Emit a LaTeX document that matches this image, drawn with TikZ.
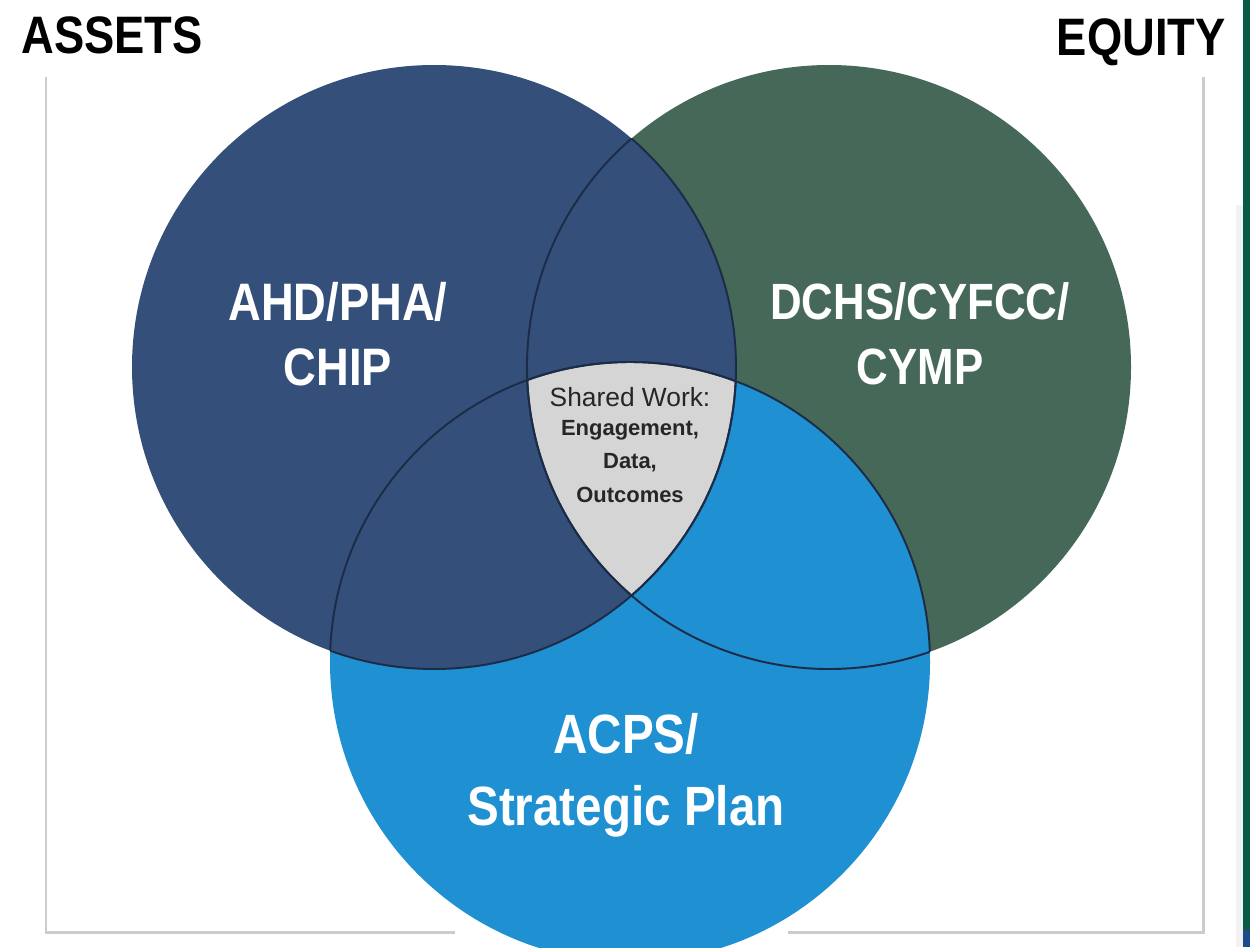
\documentclass[tikz,border=0pt]{standalone}
\usepackage{fontspec}
\setmainfont{Liberation Sans}
\newfontfamily\condfont[FakeStretch=0.86]{Liberation Sans}
\definecolor{ahdblue}{RGB}{52,80,122}
\definecolor{dchsgreen}{RGB}{70,104,88}
\definecolor{acpsblue}{RGB}{31,144,209}
\definecolor{sharedgray}{RGB}{213,213,213}
\definecolor{edgenavy}{RGB}{28,44,70}
\definecolor{bracketgray}{RGB}{204,204,204}
\definecolor{sidegreen}{RGB}{10,90,68}
\definecolor{sideblue}{RGB}{30,75,140}

\begin{document}
\begin{tikzpicture}[x=0.02cm,y=-0.02cm]
\tikzset{
  circle label/.style={text=white,inner sep=0pt,anchor=north,align=center,
    font=\condfont\bfseries\fontsize{30}{37}\selectfont},
  corner label/.style={inner sep=0pt,text=black,
    font=\condfont\bfseries\fontsize{30}{36}\selectfont},
  shared label/.style={inner sep=0pt,anchor=north,align=center,text=black!85,
    font=\fontsize{12.5}{19}\selectfont},
  bracket/.style={draw=bracketgray,line width=1.7pt},
  inner arc/.style={draw=edgenavy,line width=1.1pt}
}
\useasboundingbox (0,0) rectangle (1250,947);
\fill[white] (0,0) rectangle (1250,947);
\fill[black!5] (1236,205) rectangle (1243,947); % 右端の帯
\fill[sidegreen] (1243,0) rectangle (1250,930);
\fill[sideblue] (1243,930) rectangle (1250,947);

\coordinate (assetsTop) at (46,77);
\coordinate (assetsCorner) at (46,932);
\coordinate (assetsEnd) at (455,932);
\coordinate (equityTop) at (1203,77);
\coordinate (equityCorner) at (1203,932);
\coordinate (equityEnd) at (788,932);
\draw[bracket] (assetsTop) -- (assetsCorner) -- (assetsEnd);
\draw[bracket] (equityTop) -- (equityCorner) -- (equityEnd);

\coordinate (ahd) at (434,367);
\coordinate (dchs) at (829,367);
\coordinate (acps) at (630,662);
\fill[dchsgreen] (dchs) circle (302);
\fill[acpsblue] (acps) circle (300);
\fill[ahdblue] (ahd) circle (302);
\begin{scope} % 三つの重なり
  \clip (ahd) circle (302); \clip (dchs) circle (302);
  \fill[sharedgray] (acps) circle (300);
\end{scope}
\begin{scope}
  \clip (ahd) circle (302);
  \draw[inner arc] (dchs) circle (302) (acps) circle (300);
\end{scope}
\begin{scope}
  \clip (dchs) circle (302);
  \draw[inner arc] (ahd) circle (302) (acps) circle (300);
\end{scope}
\begin{scope}
  \clip (acps) circle (300);
  \draw[inner arc] (ahd) circle (302) (dchs) circle (302);
\end{scope}

\node[corner label,anchor=base west] (assets) at (21,53) {ASSETS};
\node[corner label,anchor=base east] (equity) at (1226,55) {EQUITY};
\node[circle label] (ahdText) at (338,282) {AHD/PHA/\\CHIP};
\node[circle label,font=\condfont\bfseries\fontsize{29}{37}\selectfont] (dchsText) at (920,282) {DCHS/CYFCC/\\CYMP};
\node[circle label,font=\condfont\bfseries\fontsize{31.5}{41}\selectfont] (acpsText) at (626,713) {ACPS/\\Strategic Plan};
\node[shared label] (shared) at (630,387) {{\fontsize{15}{18}\selectfont Shared Work:}\\[-2.5pt]\textbf{Engagement,}\\\textbf{Data,}\\\textbf{Outcomes}};
\end{tikzpicture}
\end{document}
